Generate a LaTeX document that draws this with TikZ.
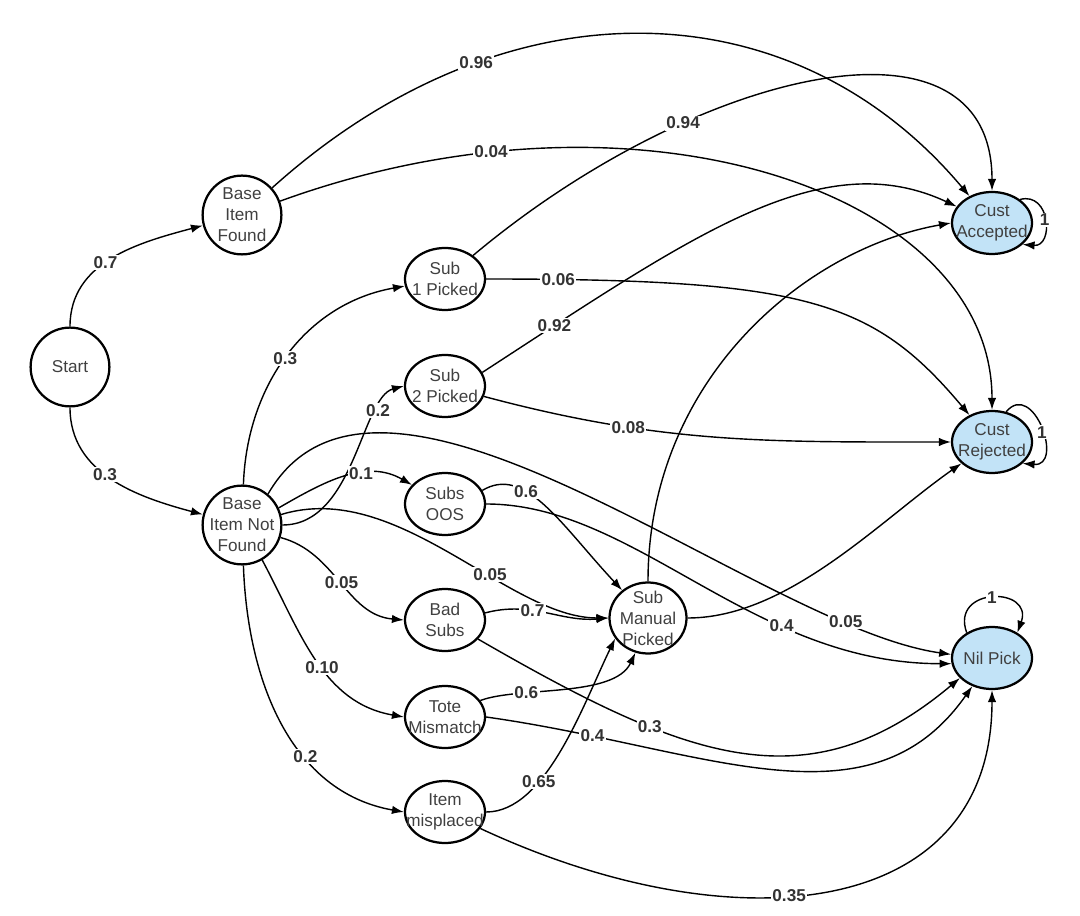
\documentclass[tikz,border=0pt]{standalone}
\usepackage{fontspec}
\setmainfont{Liberation Sans}
\usetikzlibrary{arrows.meta,shapes.geometric}
\definecolor{stateblue}{RGB}{194,227,247}

\begin{document}
\begin{tikzpicture}[
	>={Latex[length=8.5pt,width=6pt]},
	line width=1pt,
	state/.style={ellipse, draw, line width=1.6pt, inner sep=0pt, minimum width=2cm, minimum height=1.55cm, label={[statetext]center:#1}},
	bigstate/.style={minimum width=1.97cm, minimum height=1.97cm},
	statetext/.style={align=center, text=black!75, font=\fontsize{12.2}{14.9}\selectfont},
	final/.style={state=#1, fill=stateblue},
	prob/.style={fill=white, inner sep=1pt, text=black!80, font=\fontsize{12.2}{13}\selectfont\bfseries},
	]
	\useasboundingbox (-1.75,-13.725) rectangle (25.25,9.175);

	\node[state=Start, bigstate](START){};
	\node[state={Base\\Item\\Found}, bigstate, right of=START, node distance=4.3cm, yshift=3.8cm](FOUND){};
	\node[state={Base\\Item Not\\Found}, bigstate, below of=FOUND, node distance=7.75cm](NOTFOUND){};

	\node[state={Sub\\1 Picked}, right of=FOUND, node distance=5.075cm, yshift=-1.6cm](SUB1){};
	\node[state={Sub\\2 Picked}, below of=SUB1, node distance=2.675cm](SUB2){};
	\node[state={Subs\\OOS}, below of=SUB2, node distance=2.95cm](OOS){};
	\node[state={Bad\\Subs}, below of=OOS, node distance=2.9cm](BAD){};
	\node[state={Tote\\Mismatch}, below of=BAD, node distance=2.425cm](TOTE){};
	\node[state={Item\\misplaced}, below of=TOTE, node distance=2.375cm](MISP){};

	\node[state={Sub\\Manual\\Picked}, minimum width=1.925cm, minimum height=1.775cm, right of=BAD, node distance=5.075cm, yshift=0.05cm](MANUAL){};

	\node[final={Cust\\Accepted}, right of=SUB1, node distance=13.675cm, yshift=1.4cm](ACC){};
	\node[final={Cust\\Rejected}, below of=ACC, node distance=5.475cm](REJ){};
	\node[final={Nil Pick}, below of=REJ, node distance=5.4cm](NIL){};

	% start
	\draw[->] (START) to[out=90, in=195] node[prob, pos=0.45]{0.7} (FOUND);
	\draw[->] (START) to[out=-90, in=165] node[prob, pos=0.45]{0.3} (NOTFOUND);

	% base item found
	\draw[->] (FOUND) .. controls +(42:8.8) and +(130:7.8) .. (ACC) node[prob, pos=0.28]{0.96};
	\draw[->] (FOUND) .. controls +(20:10.5) and +(90:6.25) .. (REJ) node[prob, pos=0.2]{0.04};

	% base item not found
	\draw[->] (NOTFOUND) to[out=88, in=190] node[prob, pos=0.48]{0.3} (SUB1);
	\draw[->] (NOTFOUND.east) .. controls +(0:1.8) and +(195:1.1) .. (SUB2.west) node[prob, pos=0.76]{0.2};
	\draw[->] (NOTFOUND.25) to[out=30, in=150] node[prob, pos=0.62]{0.1} (OOS.150);
	\draw[->] (NOTFOUND.50) .. controls +(60:5.6) and +(172:4.9) .. (NIL.175) node[prob, pos=0.84]{0.05};
	\draw[->] (NOTFOUND.15) .. controls +(17:3.05) and +(180:2.5) .. (MANUAL.west) node[prob, pos=0.62]{0.05};
	\draw[->] (NOTFOUND.-18) to[out=-15, in=175] node[prob]{0.05} (BAD.west);
	\draw[->] (NOTFOUND.-60) to[out=-62, in=170] node[prob, pos=0.54]{0.10} (TOTE.west);
	\draw[->] (NOTFOUND) to[out=-88, in=170] node[prob, pos=0.63]{0.2} (MISP.west);

	% sub 1 / sub 2
	\draw[->] (SUB1.40) .. controls +(40:7.25) and +(90:4.8) .. (ACC.north) node[prob, pos=0.3]{0.94};
	\draw[->] (SUB1.east) .. controls +(0:8) and +(130:3.75) .. (REJ.130) node[prob, pos=0.08]{0.06};
	\draw[->] (SUB2.20) .. controls +(33:6.25) and +(155:3.75) .. (ACC.155) node[prob, pos=0.12]{0.92};
	\draw[->] (SUB2.-15) to[out=-15, in=180] node[prob, pos=0.3]{0.08} (REJ.west);

	% subs oos / bad subs
	\draw[->] (OOS.20) .. controls +(31:1.25) and +(133:2.25) .. (MANUAL.133) node[prob, pos=0.35]{0.6};
	\draw[->] (OOS.east) .. controls +(0:3.75) and +(180:5) .. (NIL.188) node[prob, pos=0.68]{0.4};
	\draw[->] (BAD.10) to[out=15, in=185] node[prob, pos=0.38]{0.7} (MANUAL.west);
	\draw[->] (BAD.-30) .. controls +(-30:6) and +(220:5) .. (NIL.212) node[prob, pos=0.31]{0.3};

	% tote mismatch / item misplaced
	\draw[->] (TOTE.25) .. controls +(21:1) and +(245:1.25) .. (MANUAL.250) node[prob, pos=0.3]{0.6};
	\draw[->] (TOTE.east) .. controls +(-8:5.5) and +(235:4.5) .. (NIL.235) node[prob, pos=0.17]{0.4};
	\draw[->] (MISP.east) .. controls +(0:1.5) and +(244:1.8) .. (MANUAL.212) node[prob, pos=0.33]{0.65};
	\draw[->] (MISP.-25) .. controls +(-25:7) and +(270:5.75) .. (NIL.south) node[prob, pos=0.43]{0.35};

	% manual pick
	\draw[->] (MANUAL.north) .. controls +(90:5) and +(190:3.75) .. (ACC.west);
	\draw[->] (MANUAL.east) .. controls +(0:2.5) and +(215:2.5) .. (REJ.215);

	% loops
	\draw[->] (ACC.40) to[out=15, in=-5, looseness=1.8] node[prob]{1} (ACC.-35);
	\draw[->] (REJ.65) to[out=50, in=-5, looseness=2] node[prob, pos=0.55]{1} (REJ.-35);
	\draw[->] (NIL.135) to[out=110, in=70, looseness=2.5] node[prob]{1} (NIL.45);
\end{tikzpicture}
\end{document}
